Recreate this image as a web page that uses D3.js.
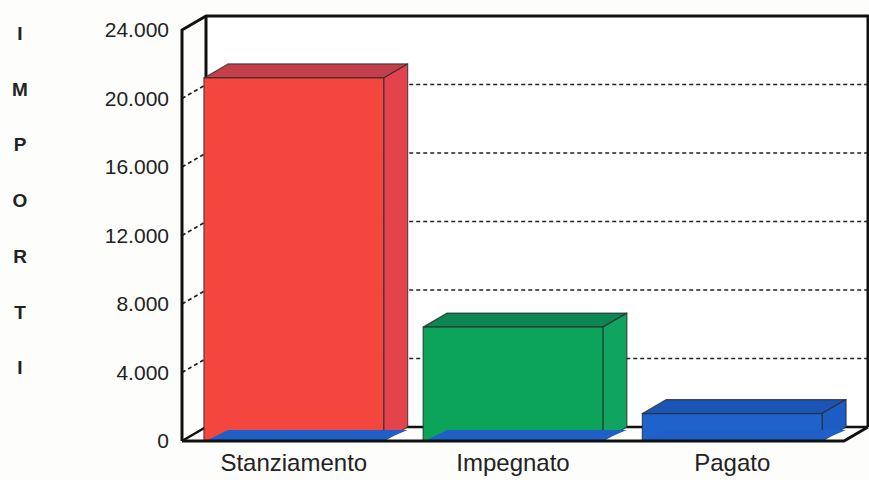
<!DOCTYPE html>
<html>
<head>
<meta charset="utf-8">
<script src="https://cdn.jsdelivr.net/npm/d3@7"></script>
<style>
  body { margin: 0; background: #fdfdfc; }
  svg { display: block; font-family: "Liberation Sans", Arial, sans-serif; }
</style>
</head>
<body>
<svg id="chart" width="869" height="480"></svg>
<script>
// data
var categories = ["Stanziamento", "Impegnato", "Pagato"];
var values = [21200, 6650, 1600];
var yTicks = [0, 4000, 8000, 12000, 16000, 20000, 24000];
var axisTitle = ["I", "M", "P", "O", "R", "T", "I"];

var front = { left: 182, right: 844, top: 30, bottom: 441 },
    dx = 24, dy = -14;

var fill = ["#f2463f", "#0ca35a", "#1f62cc"],
    topFill = ["#c23f4b", "#0c8652", "#1a54b5"],
    sideFill = ["#e2434d", "#10a461", "#1d5cc2"],
    baseFill = "#1f5fc8";

var svg = d3.select("#chart");

var locale = d3.formatLocale({ decimal: ",", thousands: ".", grouping: [3], currency: ["", "€"] });
var fmt = locale.format(",d");

var x = d3.scaleBand()
  .domain(categories)
  .range([front.left, front.right])
  .paddingInner(0.18)
  .paddingOuter(0.1);

var y = d3.scaleLinear()
  .domain([0, 24000])
  .range([front.bottom, front.top]);

function pts(a) { return a.map(function(p) { return p.join(","); }).join(" "); }

var y0 = y(0), yMax = y(24000);

// back wall
svg.append("polygon")
  .attr("points", pts([[front.left + dx, yMax + dy], [front.right + dx, yMax + dy], [front.right + dx, y0 + dy], [front.left + dx, y0 + dy]]))
  .attr("fill", "#ffffff");

// gridlines (side wall + back wall)
var grid = svg.append("g").attr("class", "grid");
yTicks.filter(function(d) { return d > 0 && d < 24000; }).forEach(function(t) {
  grid.append("polyline")
    .attr("points", pts([[front.left, y(t)], [front.left + dx, y(t) + dy], [front.right + dx, y(t) + dy]]))
    .attr("fill", "none")
    .attr("stroke", "#222")
    .attr("stroke-width", 1.7)
    .attr("stroke-dasharray", "4,3");
});

// frame
var frame = svg.append("g")
  .attr("fill", "none")
  .attr("stroke", "#111")
  .attr("stroke-width", 3)
  .attr("stroke-linejoin", "round");

frame.append("polyline") // side wall outline + back top edge
  .attr("points", pts([[front.left, y0], [front.left, yMax], [front.left + dx, yMax + dy], [front.right + dx, yMax + dy], [front.right + dx, y0 + dy]]));
frame.append("line") // back left edge
  .attr("x1", front.left + dx).attr("y1", yMax + dy)
  .attr("x2", front.left + dx).attr("y2", y0 + dy);
frame.append("polyline") // floor back edge
  .attr("points", pts([[front.left, y0], [front.left + dx, y0 + dy], [front.right + dx, y0 + dy]]))
  .attr("stroke-width", 2.5);

// bars
var bars = svg.selectAll(".bar")
  .data(values)
  .enter().append("g")
    .attr("class", "bar");

bars.append("polygon")
  .attr("points", function(d, i) {
    var x0 = x(categories[i]), x1 = x0 + x.bandwidth(), yv = y(d);
    return pts([[x0, yv], [x0 + dx, yv + dy], [x1 + dx, yv + dy], [x1, yv]]);
  })
  .attr("fill", function(d, i) { return topFill[i]; });

bars.append("polygon")
  .attr("points", function(d, i) {
    var x1 = x(categories[i]) + x.bandwidth(), yv = y(d);
    return pts([[x1, yv], [x1 + dx, yv + dy], [x1 + dx, y0 + dy], [x1, y0]]);
  })
  .attr("fill", function(d, i) { return sideFill[i]; });

bars.append("rect")
  .attr("x", function(d, i) { return x(categories[i]); })
  .attr("y", function(d) { return y(d); })
  .attr("width", x.bandwidth())
  .attr("height", function(d) { return y0 - y(d); })
  .attr("fill", function(d, i) { return fill[i]; });

bars.selectAll("polygon, rect")
  .attr("stroke", "#2a2a2a")
  .attr("stroke-opacity", 0.75)
  .attr("stroke-width", 1.2)
  .attr("stroke-linejoin", "round");

// blue floor slab under each bar
bars.append("polygon")
  .attr("points", function(d, i) {
    var x0 = x(categories[i]), x1 = x0 + x.bandwidth();
    return pts([[x0 + 2, y0], [x0 + dx, y0 + dy + 3], [x1 + dx, y0 + dy + 3], [x1 - 2, y0]]);
  })
  .attr("fill", baseFill);

// floor front edge
svg.append("polyline")
  .attr("points", pts([[front.left, y0], [front.right, y0], [front.right + dx, y0 + dy]]))
  .attr("fill", "none")
  .attr("stroke", "#111")
  .attr("stroke-width", 3);

// y axis labels
var yAxis = svg.append("g")
  .attr("transform", "translate(" + (front.left - 13) + ",0)")
  .call(d3.axisLeft(y).tickValues(yTicks).tickSize(0).tickPadding(0).tickFormat(fmt));
yAxis.select(".domain").remove();
yAxis.selectAll("text")
  .attr("font-family", "Liberation Sans, Arial, sans-serif")
  .attr("font-size", 21)
  .attr("fill", "#222");

// x axis labels
var xAxis = svg.append("g")
  .attr("transform", "translate(0," + (y0 + 13) + ")")
  .call(d3.axisBottom(x).tickSize(0).tickPadding(0));
xAxis.select(".domain").remove();
xAxis.selectAll("text")
  .attr("font-family", "Liberation Sans, Arial, sans-serif")
  .attr("font-size", 24)
  .attr("fill", "#222");

// vertical title
svg.append("g").selectAll("text")
  .data(axisTitle)
  .enter().append("text")
    .attr("x", 20)
    .attr("y", function(d, i) { return 40 + i * 55.7; })
    .attr("text-anchor", "middle")
    .attr("font-weight", "bold")
    .attr("font-size", 19)
    .attr("fill", "#222")
    .text(function(d) { return d; });
</script>
</body>
</html>
